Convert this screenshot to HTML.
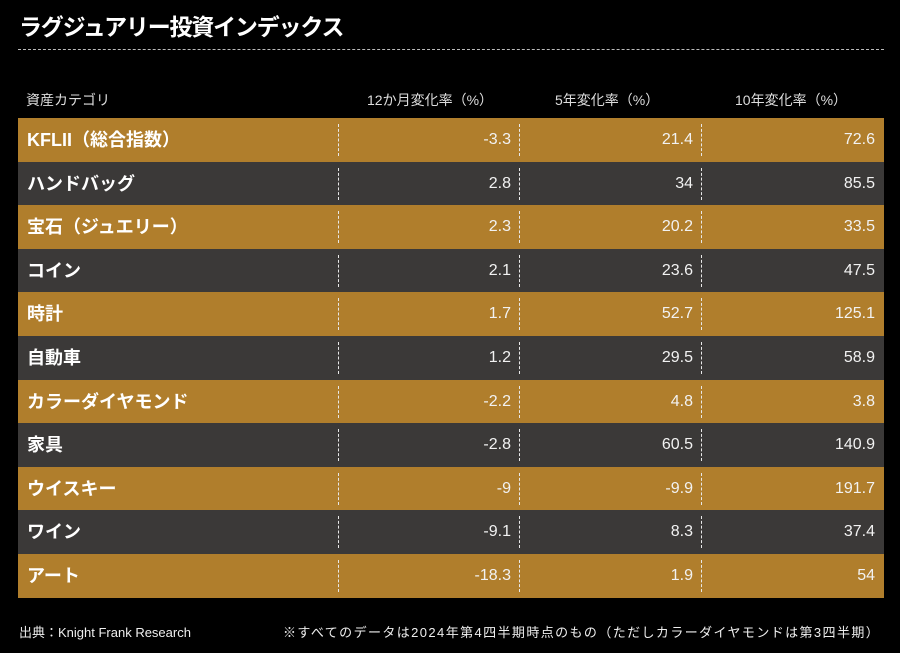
<!DOCTYPE html>
<html><head><meta charset="utf-8"><style>
html,body{margin:0;padding:0;background:#000;}
body{width:900px;height:653px;position:relative;overflow:hidden;font-family:"Liberation Sans","Noto Sans CJK JP",sans-serif;color:#fff;}
.title{position:absolute;left:19px;top:8px;font-size:23px;font-weight:bold;letter-spacing:-1.2px;}
.hr{position:absolute;left:18px;top:49px;width:866px;border-top:1.5px dashed #bbb;}
.hdr{position:absolute;top:90px;font-size:14px;color:#ddd;}
.row{position:absolute;left:18px;width:866px;height:44px;}
.row .n{position:absolute;left:9px;top:0;line-height:44px;font-size:18px;font-weight:bold;}
.row .v{position:absolute;top:0;line-height:44px;font-size:16px;text-align:right;width:150px;color:#f2f2f2;}
.sep{position:absolute;top:6px;height:32px;border-left:1.5px dashed #e8e8e8;}
.g{background:#B07E2C;} .d{background:#3B3938;}
.foot{position:absolute;top:622px;font-size:13px;color:#eee;}
</style></head><body>
<div class="title">ラグジュアリー投資インデックス</div>
<div class="hr"></div>
<div class="hdr" style="left:26px">資産カテゴリ</div>
<div class="hdr" style="left:367px">12か月変化率（%）</div>
<div class="hdr" style="left:555px">5年変化率（%）</div>
<div class="hdr" style="left:735px">10年変化率（%）</div>
<div id="rows"></div>
<div class="foot" style="left:19px">出典：Knight Frank Research</div>
<div class="foot" style="left:283px;letter-spacing:1.4px">※すべてのデータは2024年第4四半期時点のもの（ただしカラーダイヤモンドは第3四半期）</div>
<script>
var d=[["KFLII（総合指数）","-3.3","21.4","72.6"],["ハンドバッグ","2.8","34","85.5"],["宝石（ジュエリー）","2.3","20.2","33.5"],["コイン","2.1","23.6","47.5"],["時計","1.7","52.7","125.1"],["自動車","1.2","29.5","58.9"],["カラーダイヤモンド","-2.2","4.8","3.8"],["家具","-2.8","60.5","140.9"],["ウイスキー","-9","-9.9","191.7"],["ワイン","-9.1","8.3","37.4"],["アート","-18.3","1.9","54"]];
var h="";
d.forEach(function(r,i){
 var top=118+i*43.6;
 h+='<div class="row '+(i%2?'d':'g')+'" style="top:'+top+'px">'+
 '<div class="n">'+r[0]+'</div>'+
 '<div class="sep" style="left:320px"></div><div class="sep" style="left:501px"></div><div class="sep" style="left:683px"></div>'+
 '<div class="v" style="left:343px">'+r[1]+'</div>'+
 '<div class="v" style="left:525px">'+r[2]+'</div>'+
 '<div class="v" style="left:707px">'+r[3]+'</div></div>';
});
document.getElementById("rows").innerHTML=h;
</script>
</body></html>
